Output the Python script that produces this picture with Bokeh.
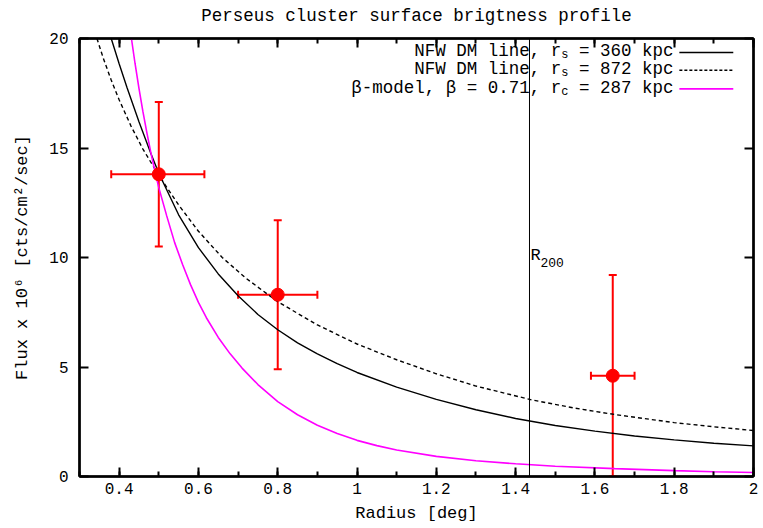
from bokeh.plotting import figure
from bokeh.models import (Range1d, LinearAxis, SingleIntervalTicker, CustomJSTickFormatter,
                          Whisker, TeeHead, ColumnDataSource, Span, Label)
from bokeh.embed import file_html
from bokeh.resources import INLINE

# ---------------- data ----------------
radius_deg = [0.50, 0.80, 1.645]
flux = [13.8, 8.3, 4.6]
radius_lo = [0.38, 0.70, 1.59]
radius_hi = [0.615, 0.90, 1.70]
flux_lo = [10.5, 4.9, 0.0]
flux_hi = [17.1, 11.7, 9.2]

nfw360_x = [0.38, 0.40, 0.42, 0.45, 0.48, 0.50, 0.55, 0.60, 0.65, 0.70, 0.75, 0.80, 0.85, 0.90, 0.95,
            1.00, 1.10, 1.20, 1.30, 1.40, 1.50, 1.60, 1.70, 1.80, 1.90, 2.00]
nfw360_y = [20.0, 18.85, 17.75, 16.2, 14.75, 13.85, 11.95, 10.45, 9.25, 8.25, 7.4, 6.7, 6.1, 5.6, 5.15,
            4.75, 4.08, 3.52, 3.05, 2.65, 2.33, 2.07, 1.85, 1.67, 1.52, 1.40]

nfw872_x = [0.344, 0.36, 0.38, 0.40, 0.43, 0.46, 0.50, 0.55, 0.60, 0.66, 0.72, 0.80, 0.90, 1.00,
            1.10, 1.20, 1.30, 1.44, 1.55, 1.65, 1.80, 1.90, 2.00]
nfw872_y = [20.0, 19.1, 18.1, 17.2, 16.0, 14.95, 13.75, 12.4, 11.2, 10.0, 9.05, 7.98, 6.92, 6.05,
            5.33, 4.69, 4.13, 3.5, 3.12, 2.83, 2.46, 2.27, 2.1]

beta_x = [0.431, 0.44, 0.45, 0.46, 0.47, 0.48, 0.49, 0.50, 0.52, 0.54, 0.56, 0.58, 0.60, 0.62,
          0.65, 0.68, 0.71, 0.75, 0.80, 0.85, 0.90, 0.95, 1.00, 1.05, 1.10, 1.20, 1.30, 1.40,
          1.50, 1.65, 1.80, 1.90, 2.00]
beta_y = [20.0, 18.87, 17.72, 16.66, 15.69, 14.79, 13.96, 13.19, 11.9, 10.68, 9.68, 8.76, 7.95, 7.25,
          6.35, 5.6, 4.95, 4.2, 3.42, 2.82, 2.34, 1.96, 1.65, 1.41, 1.21, 0.92, 0.72, 0.58,
          0.47, 0.36, 0.27, 0.22, 0.18]

r200 = 1.435

title_text = "Perseus cluster surface brigtness profile"
x_label = "Radius [deg]"
y_label = "Flux x 10\u2076 [cts/cm\u00b2/sec]"
legend_heads = ["NFW DM line, r", "NFW DM line, r", "\u03b2-model, \u03b2 = 0.71, r"]
legend_subs = ["s", "s", "c"]
legend_tails = ["= 360 kpc", "= 872 kpc", "= 287 kpc"]

# ---------------- style / layout ----------------
FONT = "Liberation Mono"
FS = 17
KEY_FS = 17.5
CW = 0.6 * KEY_FS
SUB_FS = 12
SUB_W = 0.6 * SUB_FS
RED = "#ff0000"
MAG = "#ff00ff"

p = figure(width=763, height=528, x_range=Range1d(0.3, 2.0), y_range=Range1d(0, 20),
           output_backend="svg", toolbar_location=None,
           min_border_left=79, min_border_right=10, min_border_top=38, min_border_bottom=52)
p.grid.visible = False
p.outline_line_color = "black"
p.outline_line_width = 2
p.background_fill_color = "white"
p.border_fill_color = "white"

bottom = p.below[0]
left = p.left[0]

xt = SingleIntervalTicker(interval=0.2, num_minor_ticks=2)
yt = SingleIntervalTicker(interval=5, num_minor_ticks=0)
bottom.ticker = xt
left.ticker = yt
bottom.formatter = CustomJSTickFormatter(code="return String(Math.round(tick*10)/10)")
bottom.axis_label = x_label
left.axis_label = y_label

top = LinearAxis(ticker=xt, major_label_text_font_size="0px", major_label_standoff=0,
                 axis_label=title_text)
right = LinearAxis(ticker=yt, major_label_text_font_size="0px", major_label_standoff=0)
p.add_layout(top, "above")
p.add_layout(right, "right")

for ax in [bottom, left, top, right]:
    ax.axis_line_color = "black"
    ax.axis_line_width = 2.5
    ax.major_tick_in = 9
    ax.major_tick_out = 0
    ax.minor_tick_in = 5
    ax.minor_tick_out = 0
    ax.major_tick_line_width = 2
    ax.minor_tick_line_width = 2
    ax.major_tick_line_color = "black"
    ax.minor_tick_line_color = "black"

for ax in [bottom, left, top]:
    ax.major_label_text_font = FONT
    ax.major_label_text_color = "black"
    ax.axis_label_text_font = FONT
    ax.axis_label_text_font_size = f"{FS}px"
    ax.axis_label_text_font_style = "normal"
    ax.axis_label_text_color = "black"
top.axis_label_text_font_size = f"{KEY_FS}px"
for ax in [bottom, left]:
    ax.major_label_text_font_size = "16px"
bottom.major_label_standoff = 6
bottom.axis_label_standoff = 7
left.major_label_standoff = 11
left.axis_label_standoff = 14
top.axis_label_standoff = 13

# ---------------- curves ----------------
p.line(nfw360_x, nfw360_y, line_color="black", line_width=1.4)
p.line(nfw872_x, nfw872_y, line_color="black", line_width=1.4, line_dash="4 3")
p.line(beta_x, beta_y, line_color=MAG, line_width=1.6)

# R200 marker line
p.add_layout(Span(location=r200, dimension="height", line_color="black", line_width=1))
p.add_layout(Label(x=r200, y=10.07, text="R", x_offset=1, text_baseline="middle",
                   text_font=FONT, text_font_size=f"{FS}px", text_color="black"))
p.add_layout(Label(x=r200, y=10.07, text="200", x_offset=11, y_offset=-7, text_baseline="middle",
                   text_font=FONT, text_font_size="13px", text_color="black"))

# ---------------- data points ----------------
src = ColumnDataSource(dict(x=radius_deg, y=flux, xl=radius_lo, xh=radius_hi, yl=flux_lo, yh=flux_hi))
p.add_layout(Whisker(source=src, base="x", lower="yl", upper="yh", dimension="height",
                     line_color=RED, line_width=2,
                     lower_head=TeeHead(size=8, line_color=RED, line_width=2),
                     upper_head=TeeHead(size=8, line_color=RED, line_width=2)))
p.add_layout(Whisker(source=src, base="y", lower="xl", upper="xh", dimension="width",
                     line_color=RED, line_width=2,
                     lower_head=TeeHead(size=8, line_color=RED, line_width=2),
                     upper_head=TeeHead(size=8, line_color=RED, line_width=2)))
p.scatter("x", "y", source=src, marker="circle", size=13, fill_color=RED, line_color=RED)

# ---------------- key (gnuplot style: text, then sample) ----------------
leg_text_x = 1.798
leg_line_x = [1.813, 1.949]
leg_text_rows = [19.41, 18.62, 17.75]
leg_line_rows = [19.36, 18.55, 17.70]
leg_styles = [dict(line_color="black", line_width=1.4),
              dict(line_color="black", line_width=1.4, line_dash="3 2"),
              dict(line_color=MAG, line_width=1.6)]
for head, sub, tail, ty, ly, st in zip(legend_heads, legend_subs, legend_tails,
                                       leg_text_rows, leg_line_rows, leg_styles):
    tail_w = len(tail) * CW
    tail_start = -tail_w
    sub_start = tail_start - CW - SUB_W
    head_start = sub_start - len(head) * CW
    p.add_layout(Label(x=leg_text_x, y=ty, text=head, x_offset=head_start,
                       text_align="left", text_baseline="middle",
                       text_font=FONT, text_font_size=f"{KEY_FS}px", text_color="black"))
    p.add_layout(Label(x=leg_text_x, y=ty, text=sub, x_offset=sub_start, y_offset=-4,
                       text_align="left", text_baseline="middle",
                       text_font=FONT, text_font_size=f"{SUB_FS}px", text_color="black"))
    p.add_layout(Label(x=leg_text_x, y=ty, text=tail, x_offset=tail_start,
                       text_align="left", text_baseline="middle",
                       text_font=FONT, text_font_size=f"{KEY_FS}px", text_color="black"))
    p.line(leg_line_x, [ly, ly], **st)

open("out.html", "w").write(file_html(p, INLINE))
